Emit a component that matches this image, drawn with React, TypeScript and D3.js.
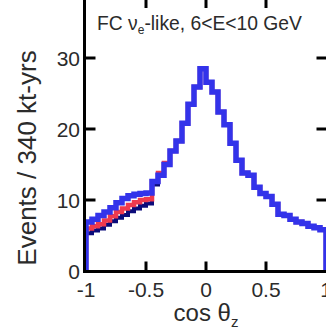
import React from 'react';
import * as d3 from 'd3';

const xTicks = [-1, -0.5, 0, 0.5, 1];
const xTickLabels = ['-1', '-0.5', '0', '0.5', '1'];
const yTicks = [0, 10, 20, 30];
const yTickLabels = ['0', '10', '20', '30'];

const binLow = -1;
const binWidth = 0.05;

const blueCounts = [
  6.9, 7.3, 7.8, 8.3, 8.9, 9.6, 10.2, 10.6, 10.8, 10.9,
  11.0, 12.6, 13.5, 15.0, 16.9, 18.3, 20.8, 23.5, 25.9, 28.5,
  26.6, 25.2, 22.4, 20.6, 18.0, 15.6, 13.8, 13.5, 11.8, 10.9,
  10.5, 9.4, 8.0, 7.8, 7.3, 6.9, 6.7, 6.3, 6.1, 5.8,
];
const redCounts = [
  6.0, 6.3, 6.6, 7.1, 7.7, 8.3, 8.8, 9.3, 9.7, 10.0,
  10.1, 12.6, 13.8, 15.2, 16.9, 18.3, 20.8, 23.5, 25.9, 28.5,
  26.6, 25.2, 22.4, 20.6, 18.0, 15.6, 13.8, 13.5, 11.8, 10.9,
  10.5, 9.4, 8.0, 7.8, 7.3, 6.9, 6.7, 6.3, 6.1, 5.8,
];
const navyCounts = [
  5.3, 5.7, 6.0, 6.5, 7.0, 7.5, 7.9, 8.4, 8.8, 9.2,
  9.5, 12.2, 13.5, 15.0, 16.9, 18.3, 20.8, 23.5, 25.9, 28.5,
  26.6, 25.2, 22.4, 20.6, 18.0, 15.6, 13.8, 13.5, 11.8, 10.9,
  10.5, 9.4, 8.0, 7.8, 7.3, 6.9, 6.7, 6.3, 6.1, 5.8,
];

export default function App() {
  const W = 326;
  const H = 331;
  const x = d3.scaleLinear().domain([-1, 1]).range([86, 326]);
  const y = d3.scaleLinear().domain([0, 30]).range([271, 58]);
  const left = 84.5;
  const bottom = 271.5;
  const top = -3;
  const right = 327.5;

  const stepPath = (counts: number[]) => {
    const pts: [number, number][] = [[x(binLow), y(0)]];
    counts.forEach((c, i) => {
      const a = binLow + i * binWidth;
      pts.push([x(a), y(c)], [x(a + binWidth), y(c)]);
    });
    pts.push([x(binLow + counts.length * binWidth), y(0)]);
    return d3.line()(pts) as string;
  };

  const font = 'Liberation Sans, Arial, sans-serif';
  const textColor = '#2b2b2b';

  return (
    <svg width={W} height={H} style={{ position: 'absolute', left: 0, top: 0, background: '#fff' }}>
      <rect x={0} y={0} width={W} height={H} fill="#fff" />
      <path d={stepPath(navyCounts)} fill="none" stroke="#0b0b7a" strokeWidth={4} strokeLinejoin="miter" />
      <path d={stepPath(redCounts)} fill="none" stroke="#ef3a4e" strokeWidth={4.5} strokeLinejoin="miter" />
      <path d={stepPath(blueCounts)} fill="none" stroke="#3333ea" strokeWidth={5.5} strokeLinejoin="miter" />

      {/* frame */}
      <line x1={left} x2={left} y1={top} y2={bottom + 1.5} stroke="#000" strokeWidth={3} />
      <line x1={left - 1.5} x2={right} y1={bottom} y2={bottom} stroke="#000" strokeWidth={3} />
      <line x1={left - 1.5} x2={right} y1={top} y2={top} stroke="#000" strokeWidth={3} />
      <line x1={right} x2={right} y1={top} y2={bottom} stroke="#000" strokeWidth={3} />

      {/* y ticks */}
      {yTicks.map((t, i) => (
        <g key={'y' + i}>
          {t !== 0 && (
            <>
              <line x1={left} x2={left + 11} y1={y(t)} y2={y(t)} stroke="#000" strokeWidth={3} />
              <line x1={right} x2={right - 11} y1={y(t)} y2={y(t)} stroke="#000" strokeWidth={3} />
            </>
          )}
          <text x={80} y={y(t)} dy="0.36em" textAnchor="end" fontFamily={font} fontSize={21} fill={textColor}>
            {yTickLabels[i]}
          </text>
        </g>
      ))}

      {/* x ticks */}
      {xTicks.map((t, i) => (
        <g key={'x' + i}>
          {t > -1 && t < 1 && (
            <>
              <line x1={x(t)} x2={x(t)} y1={bottom} y2={bottom - 10} stroke="#000" strokeWidth={3} />
              <line x1={x(t)} x2={x(t)} y1={top} y2={top + 11} stroke="#000" strokeWidth={3} />
            </>
          )}
          <text x={x(t)} y={297} textAnchor="middle" fontFamily={font} fontSize={21} fill={textColor}>
            {xTickLabels[i]}
          </text>
        </g>
      ))}

      {/* title */}
      <text x={97} y={30} fontFamily={font} fontSize={19.3} fill={textColor}>
        FC ν<tspan fontSize={12} dy={4}>e</tspan>
        <tspan dy={-4}>-like, 6&lt;E&lt;10 GeV</tspan>
      </text>

      {/* axis labels */}
      <text x={206} y={321} textAnchor="middle" fontFamily={font} fontSize={24} fill={textColor}>
        cos θ<tspan fontSize={15} dy={6}>z</tspan>
      </text>
      <text
        transform={`translate(36,158) rotate(-90)`}
        textAnchor="middle"
        fontFamily={font}
        fontSize={26}
        fill={textColor}
      >
        Events / 340 kt-yrs
      </text>
    </svg>
  );
}
